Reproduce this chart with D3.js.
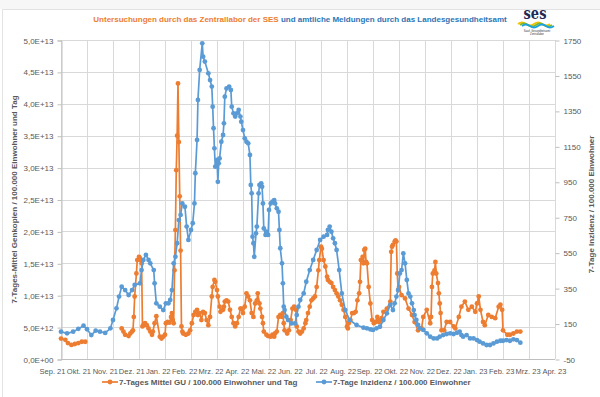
<!DOCTYPE html>
<html>
<head>
<meta charset="utf-8">
<script src="https://cdn.jsdelivr.net/npm/d3@7"></script>
<style>
  html, body { margin: 0; padding: 0; background: #fff; }
  svg { display: block; font-family: "Liberation Sans", Arial, sans-serif; }
</style>
</head>
<body>
<div id="chart"></div>
<script>
// x: days since the first sample, one gridline every 30 days
const xTickLabels = ['Sep. 21', 'Okt. 21', 'Nov. 21', 'Dez. 21', 'Jan. 22', 'Feb. 22', 'Mrz. 22', 'Apr. 22', 'Mai. 22', 'Jun. 22',
  'Jul. 22', 'Aug. 22', 'Sep. 22', 'Okt. 22', 'Nov. 22', 'Dez. 22', 'Jan. 23', 'Feb. 23', 'Mrz. 23', 'Apr. 23'];
const leftTicks = [0, 5e12, 1e13, 1.5e13, 2e13, 2.5e13, 3e13, 3.5e13, 4e13, 4.5e13, 5e13];
const leftTickLabels = ['0,0E+00', '5,0E+12', '1,0E+13', '1,5E+13', '2,0E+13', '2,5E+13', '3,0E+13', '3,5E+13', '4,0E+13', '4,5E+13', '5,0E+13'];
const rightTicks = [-50, 150, 350, 550, 750, 950, 1150, 1350, 1550, 1750];

// 7-Tages Mittel GU (Genkopien, in 1e12), null = gap
const GC_UNIT = 1e12;
const gcSeries = [[0,3.2],[5,3.0],[8,2.5],[12,2.2],[16,2.35],[18,null],[20,2.5],[24,2.7],[28,2.7],[29,null],
  [70,4.8],[72,4.3],[74,3.8],[78,3.6],[80,4.0],[82,4.3],[83,4.5],[84,6.6],[85,9.8],[87,13.4],[88,15.5],[90,16.0],[91,15.8],[92,15.5],[93,15.0],
  [94,5.1],[95,5.3],[97,5.6],[99,5.3],[101,4.8],[103,4.3],[105,3.8],[106,4.3],[108,5.6],[110,6.7],[114,3.5],[116,3.2],[118,3.5],[120,3.8],
  [121,5.6],[123,5.8],[125,5.7],[127,6.6],[128,7.2],[129,6.1],[130,5.6],[131,13.9],[132,20.2],[133,29.6],[134,35.0],[135,43.2],[136,34.0],
  [137,25.5],[138,17.0],[139,5.1],[140,4.3],[141,4.0],[144,3.8],[147,4.0],[149,4.5],[151,5.6],[153,6.9],[155,7.4],[157,7.7],[158,6.9],
  [160,7.2],[162,6.1],[164,7.4],[166,7.2],[168,6.1],[170,5.3],[172,6.6],[174,9.8],[175,11.3],[177,12.4],[178,12.1],[180,10.8],[181,9.8],
  [183,8.2],[184,7.4],[187,7.7],[188,8.2],[189,9.0],[191,9.2],[193,9.0],[195,7.7],[197,6.6],[199,5.6],[201,5.1],[203,5.6],[205,6.6],
  [207,7.9],[208,7.9],[210,7.2],[212,8.2],[214,10.3],[216,9.8],[218,9.2],[220,7.2],[222,6.6],[224,8.7],[226,9.2],[227,10.3],[229,8.7],
  [230,7.9],[232,6.6],[233,5.6],[234,4.3],[237,3.8],[239,3.6],[242,3.5],[244,3.8],[246,3.5],[247,4.0],[249,4.3],[251,6.6],[253,6.9],
  [255,6.6],[256,7.2],[257,5.6],[258,4.5],[261,4.0],[263,4.5],[265,6.1],[267,7.9],[269,8.2],[271,7.7],[272,5.1],[274,4.3],[276,4.0],
  [278,4.3],[280,4.8],[282,5.6],[283,6.1],[285,7.2],[287,8.2],[289,9.2],[291,9.5],[293,9.8],[295,11.3],[297,13.9],[298,15.5],[300,17.6],
  [301,17.3],[303,15.5],[305,14.5],[307,12.9],[308,12.4],[310,12.1],[312,11.9],[314,11.3],[316,10.8],[318,10.3],[320,9.8],[322,9.2],
  [324,8.5],[326,7.7],[328,6.6],[330,5.1],[331,4.8],[332,5.6],[334,6.1],[336,7.2],[338,7.2],[340,7.4],[342,9.2],[344,10.3],[345,12.1],
  [346,15.5],[348,16.0],[349,15.0],[350,17.1],[351,17.3],[352,15.2],[353,15.0],[355,11.3],[357,8.7],[359,6.1],[361,5.6],[363,5.8],
  [365,6.6],[367,5.8],[368,6.1],[370,6.4],[372,7.4],[376,7.9],[380,9.0],[381,16.8],[382,17.6],[383,17.9],[385,18.4],[386,18.6],[387,18.4],
  [388,13.4],[389,10.8],[390,11.3],[393,10.0],[397,9.5],[401,7.9],[405,6.9],[408,5.8],[412,4.5],[416,4.8],[418,6.6],[422,7.7],[426,5.6],
  [427,6.6],[428,11.3],[429,13.4],[431,13.9],[432,15.2],[433,13.4],[435,11.9],[436,10.3],[437,8.7],[438,7.2],[439,4.5],[442,4.5],
  [445,5.8],[449,5.8],[453,5.1],[455,4.8],[459,6.6],[462,8.2],[466,9.0],[470,7.7],[474,8.2],[478,7.4],[480,8.7],[482,9.8],[484,7.7],
  [487,5.8],[489,5.3],[493,6.9],[497,6.6],[501,6.4],[505,8.2],[507,8.5],[509,7.7],[510,4.5],[515,3.8],[518,3.8],[522,4.0],[526,4.3],[530,4.3]];

// 7-Tage Inzidenz / 100.000 Einwohner
const incidenceSeries = [[0,104],[7,95],[14,104],[20,120],[26,138],[30,118],[35,85],[40,110],[45,104],[51,97],[57,123],[60,170],
  [64,236],[67,302],[70,358],[74,339],[78,311],[82,339],[85,368],[91,377],[93,452],[95,509],[98,537],[101,509],[103,490],[107,452],
  [108,377],[110,264],[114,245],[118,226],[121,264],[124,264],[126,283],[128,339],[130,490],[132,527],[134,603],[136,734],[138,763],
  [140,828],[143,809],[145,697],[147,622],[150,678],[152,716],[154,828],[155,998],[157,1186],[158,1412],[160,1581],[163,1731],[164,1656],
  [166,1628],[170,1562],[172,1524],[174,1487],[175,1374],[176,1252],[177,1139],[178,1035],[180,1073],[181,950],[182,1054],[183,1082],
  [185,1176],[187,1214],[188,1280],[189,1430],[191,1477],[194,1487],[196,1468],[197,1374],[199,1336],[201,1318],[203,1336],[205,1355],
  [207,1318],[208,1289],[210,1242],[212,1195],[214,1176],[216,1167],[218,1101],[219,932],[220,885],[221,640],[222,603],[223,527],
  [225,659],[226,697],[228,885],[229,932],[231,941],[232,922],[233,828],[234,687],[236,650],[237,668],[239,650],[240,791],[242,828],
  [244,838],[246,847],[247,828],[249,800],[251,781],[252,678],[253,575],[255,490],[256,377],[257,245],[258,226],[260,189],[262,170],
  [266,151],[270,151],[272,198],[274,245],[276,283],[280,320],[283,386],[287,452],[291,509],[295,565],[299,622],[303,640],[307,650],
  [308,678],[310,697],[312,668],[314,631],[316,603],[318,565],[321,452],[324,320],[328,226],[333,170],[341,142],[349,127],[353,123],
  [357,117],[360,114],[364,123],[368,132],[372,170],[376,208],[380,255],[383,226],[385,264],[387,302],[389,339],[391,433],[393,452],
  [395,546],[397,490],[399,396],[401,320],[403,302],[405,264],[407,226],[408,198],[410,170],[412,142],[414,123],[418,114],[422,95],
  [426,76],[430,66],[434,66],[437,76],[441,85],[445,91],[449,95],[453,91],[457,98],[460,104],[462,85],[464,76],[468,85],[472,66],
  [476,66],[480,57],[483,48],[487,38],[491,29],[495,29],[499,38],[503,48],[507,53],[510,53],[514,57],[518,53],[522,61],[526,57],[530,42]];

const ORANGE = '#ED7D31';
const BLUE = '#5B9BD5';
const GRID = '#d9d9d9';
const TEXT = '#595959';

const width = 600, height = 397;
const plot = {left: 61, right: 555, top: 40, bottom: 359};

const svg = d3.select('#chart').append('svg')
  .attr('width', width)
  .attr('height', height);

// frame
svg.append('rect').attr('x', 0).attr('y', 0).attr('width', width).attr('height', 9).attr('fill', '#f7f7f7');
svg.append('rect').attr('x', 2.5).attr('y', 9.5).attr('width', width).attr('height', height)
  .attr('fill', '#fff').attr('stroke', '#e3e3e3');

const x = d3.scaleLinear().domain([0, 570]).range([plot.left, plot.right]);
const xLabel = d3.scalePoint().domain(xTickLabels).range([52, 554]);
const yLeft = d3.scaleLinear().domain([0, 5e13]).range([plot.bottom, plot.top]);
const yRight = d3.scaleLinear().domain([-50, 1750]).range([plot.bottom, plot.top]);
const xGrid = xTickLabels.map((d, i) => i * 30);

// grid
svg.append('g').selectAll('line').data(leftTicks).enter().append('line')
  .attr('x1', plot.left).attr('x2', plot.right)
  .attr('y1', d => Math.round(yLeft(d)) + 0.5).attr('y2', d => Math.round(yLeft(d)) + 0.5)
  .attr('stroke', GRID);
svg.append('g').selectAll('line').data(xGrid).enter().append('line')
  .attr('x1', d => Math.round(x(d)) + 0.5).attr('x2', d => Math.round(x(d)) + 0.5)
  .attr('y1', plot.top).attr('y2', plot.bottom)
  .attr('stroke', GRID);

// axes
const leftAxis = svg.append('g')
  .attr('transform', `translate(${plot.left + 0.5},0.5)`)
  .call(d3.axisLeft(yLeft).tickValues(leftTicks).tickFormat((d, i) => leftTickLabels[i]).tickSize(4).tickPadding(4));
const rightAxis = svg.append('g')
  .attr('transform', `translate(${plot.right + 0.5},0.5)`)
  .call(d3.axisRight(yRight).tickValues(rightTicks).tickFormat(d => d).tickSize(4).tickPadding(4));
const bottomAxis = svg.append('g')
  .attr('transform', `translate(0,${plot.bottom + 0.5})`)
  .call(d3.axisBottom(xLabel).tickSize(0).tickPadding(9));
bottomAxis.select('.domain').attr('d', `M${plot.left},0H${plot.right}`);

[leftAxis, rightAxis, bottomAxis].forEach(g => {
  g.select('.domain').attr('stroke', '#bfbfbf');
  g.selectAll('.tick line').attr('stroke', '#bfbfbf');
  g.selectAll('text').attr('fill', TEXT).style('font-size', '8px').style('font-family', '"Liberation Sans", Arial, sans-serif');
});
bottomAxis.selectAll('text').style('font-size', '7.5px');
rightAxis.select('.domain').remove();

// axis titles
svg.append('text')
  .attr('transform', `translate(17,${(plot.top + plot.bottom) / 2}) rotate(-90)`)
  .attr('text-anchor', 'middle')
  .attr('fill', TEXT)
  .style('font-size', '8px')
  .style('font-weight', 'bold')
  .text('7-Tages-Mittel Genkopien / 100.000 Einwohner und Tag');
svg.append('text')
  .attr('transform', `translate(594,${(plot.top + plot.bottom) / 2 + 5}) rotate(-90)`)
  .attr('text-anchor', 'middle')
  .attr('fill', TEXT)
  .style('font-size', '8px')
  .style('font-weight', 'bold')
  .text('7-Tage Inzidenz / 100.000 Einwohner');

// title
const title = svg.append('text')
  .attr('x', 300).attr('y', 22)
  .attr('text-anchor', 'middle')
  .style('font-size', '8px')
  .style('font-weight', 'bold');
title.append('tspan').attr('fill', ORANGE).text('Untersuchungen durch das Zentrallabor der SES ');
title.append('tspan').attr('fill', '#2E75B6').text('und amtliche Meldungen durch das Landesgesundheitsamt');

// logo
const logo = svg.append('g').attr('transform', 'translate(518,3)');
logo.append('text').attr('transform', 'translate(17,16) scale(1,1.25)').attr('text-anchor', 'middle')
  .style('font-family', '"DejaVu Serif", serif').style('font-weight', 'bold').style('font-size', '13px')
  .attr('fill', '#1f2a55').text('ses');
[['#f2c100', 0], ['#7cb82f', 2], ['#1ba1e2', 4]].forEach(([c, o]) => {
  logo.append('path')
    .attr('d', `M${o},${21 + o / 2} q4,-3 8,0 t8,0 t8,0 t8,0`)
    .attr('fill', 'none').attr('stroke', c).attr('stroke-width', 1.8);
});
logo.append('text').attr('x', 19).attr('y', 29).attr('text-anchor', 'middle')
  .style('font-size', '2.6px').attr('fill', '#333').text('Saarl. Gesundheitsamt');
logo.append('text').attr('x', 19).attr('y', 32).attr('text-anchor', 'middle')
  .style('font-size', '2.6px').attr('fill', '#333').text('Zentrallabor');

// series
function drawSeries(data, yScale, accessor, color) {
  const line = d3.line()
    .defined(d => d[1] !== null)
    .x(d => x(d[0]))
    .y(d => yScale(accessor(d[1])));
  const g = svg.append('g');
  g.append('path')
    .datum(data)
    .attr('d', line)
    .attr('fill', 'none')
    .attr('stroke', color)
    .attr('stroke-width', 1.7)
    .attr('stroke-linejoin', 'round');
  g.selectAll('circle').data(data.filter(d => d[1] !== null)).enter().append('circle')
    .attr('cx', d => x(d[0]))
    .attr('cy', d => yScale(accessor(d[1])))
    .attr('r', 2.4)
    .attr('fill', color);
}
drawSeries(gcSeries, yLeft, v => v * GC_UNIT, ORANGE);
drawSeries(incidenceSeries, yRight, v => v, BLUE);

// legend
const legendItems = [
  {label: '7-Tages Mittel GU / 100.000 Einwohner und Tag', color: ORANGE, x: 102},
  {label: '7-Tage Inzidenz / 100.000 Einwohner', color: BLUE, x: 316}
];
const legend = svg.append('g').attr('transform', 'translate(0,382)');
legendItems.forEach(item => {
  const g = legend.append('g').attr('transform', `translate(${item.x},0)`);
  g.append('line').attr('x1', 0).attr('x2', 16).attr('stroke', item.color).attr('stroke-width', 1.7);
  g.append('circle').attr('cx', 8).attr('r', 2.4).attr('fill', item.color);
  g.append('text').attr('x', 17).attr('dy', '0.35em')
    .attr('fill', TEXT).style('font-size', '8px').style('font-weight', 'bold')
    .text(item.label);
});
</script>
</body>
</html>
